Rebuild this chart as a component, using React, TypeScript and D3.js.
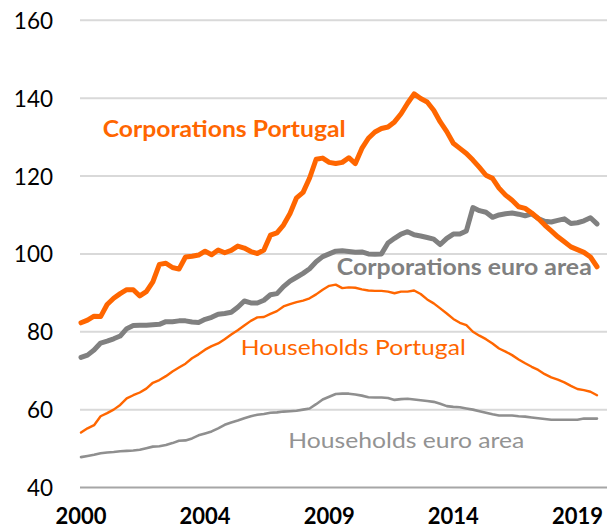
import React from "react";
import * as d3 from "d3";

// ---- data (quarterly, 2000Q1 .. 2019Q4) ----
const years = d3.range(2000, 2020);
const quarters: string[] = years.flatMap((y) => [1, 2, 3, 4].map((q) => `${y}Q${q}`));

const corpPortugal = [
  82.3, 83.0, 84.0, 83.9, 87.0, 88.6, 89.8, 90.8, 90.8, 89.2,
  90.3, 92.8, 97.3, 97.6, 96.5, 96.1, 99.2, 99.4, 99.7, 100.7,
  99.8, 101.0, 100.3, 100.9, 102.0, 101.5, 100.6, 100.1, 101.0, 104.8,
  105.4, 107.4, 110.4, 114.4, 115.8, 119.5, 124.3, 124.6, 123.5, 123.2,
  123.5, 124.7, 123.2, 127.1, 129.7, 131.3, 132.2, 132.6, 133.9, 136.0,
  138.7, 141.1, 139.9, 139.0, 136.9, 133.9, 131.4, 128.4, 127.1, 125.8,
  124.1, 122.2, 120.2, 119.4, 116.9, 115.1, 113.8, 112.1, 111.7, 110.5,
  109.1, 107.4, 105.9, 104.4, 103.1, 101.8, 101.1, 100.4, 99.2, 96.7,
];

const corpEuroArea = [
  73.4, 74.0, 75.3, 77.1, 77.6, 78.2, 78.9, 80.8, 81.6, 81.7,
  81.7, 81.8, 81.9, 82.6, 82.6, 82.8, 82.8, 82.5, 82.4, 83.2,
  83.7, 84.5, 84.7, 85.0, 86.3, 87.9, 87.4, 87.4, 88.1, 89.5,
  89.8, 91.6, 93.0, 94.0, 95.0, 96.2, 98.0, 99.3, 100.0, 100.7,
  100.8, 100.6, 100.4, 100.5, 100.0, 99.9, 100.0, 102.8, 104.0, 105.1,
  105.7, 104.9, 104.6, 104.2, 103.8, 102.4, 104.0, 105.1, 105.1, 105.9,
  111.9, 111.1, 110.7, 109.4, 110.0, 110.3, 110.5, 110.2, 109.8, 110.3,
  109.1, 108.4, 108.2, 108.6, 109.0, 107.8, 108.0, 108.5, 109.3, 107.7,
];

const hhPortugal = [
  54.1, 55.2, 56.0, 58.3, 59.1, 60.0, 61.2, 62.9, 63.7, 64.4,
  65.4, 66.9, 67.6, 68.6, 69.8, 70.8, 71.8, 73.2, 74.2, 75.4,
  76.3, 77.0, 78.1, 79.3, 80.4, 81.6, 82.8, 83.7, 83.8, 84.6,
  85.3, 86.5, 87.1, 87.6, 88.0, 88.6, 89.6, 90.8, 91.8, 92.1,
  91.2, 91.4, 91.3, 90.9, 90.6, 90.5, 90.5, 90.3, 89.9, 90.3,
  90.3, 90.6, 89.7, 88.3, 87.3, 86.0, 84.7, 83.3, 82.3, 81.7,
  80.0, 79.0, 78.1, 77.0, 75.7, 74.9, 74.0, 72.9, 71.9, 71.0,
  70.2, 69.1, 68.3, 67.7, 67.0, 66.1, 65.3, 65.0, 64.6, 63.7,
];

const hhEuroArea = [
  47.8, 48.1, 48.4, 48.8, 49.0, 49.1, 49.3, 49.4, 49.5, 49.7,
  50.1, 50.5, 50.6, 50.9, 51.4, 52.0, 52.1, 52.6, 53.4, 53.9,
  54.4, 55.2, 56.1, 56.7, 57.2, 57.8, 58.3, 58.7, 58.9, 59.2,
  59.3, 59.5, 59.6, 59.7, 60.0, 60.3, 61.4, 62.6, 63.3, 64.0,
  64.1, 64.1, 63.9, 63.6, 63.2, 63.1, 63.1, 63.0, 62.5, 62.7,
  62.8, 62.6, 62.4, 62.2, 62.0, 61.5, 60.9, 60.7, 60.6, 60.3,
  60.0, 59.6, 59.2, 58.8, 58.5, 58.5, 58.5, 58.3, 58.2, 58.0,
  57.8, 57.6, 57.4, 57.4, 57.4, 57.4, 57.4, 57.7, 57.7, 57.7,
];

const yTicks = [40, 60, 80, 100, 120, 140, 160];
const xTickQuarters = ["2000Q1", "2004Q4", "2009Q3", "2014Q2", "2019Q1"];

const seriesNames = [
  "Households euro area",
  "Households Portugal",
  "Corporations euro area",
  "Corporations Portugal",
];

// ---- layout / style ----
const W = 608;
const H = 529;
const ORANGE = "#ff6600";
const GRAY_DARK = "#808080";
const GRAY_LIGHT = "#8f8f8f";
const FONT = "Lato, 'Liberation Sans', sans-serif";

export default function App() {
  const x = d3.scaleLinear().domain([0, quarters.length - 1]).range([81, 597]);
  const y = d3.scaleLinear().domain([40, 160]).range([487.5, 20.3]);
  const gridX0 = 80;
  const gridX1 = 607;

  const line = d3
    .line<number>()
    .x((_, i) => x(i))
    .y((d) => y(d));

  const series = [
    { name: seriesNames[0], values: hhEuroArea, color: GRAY_LIGHT, width: 2.6 },
    { name: seriesNames[1], values: hhPortugal, color: ORANGE, width: 2.4 },
    { name: seriesNames[2], values: corpEuroArea, color: GRAY_DARK, width: 5 },
    { name: seriesNames[3], values: corpPortugal, color: ORANGE, width: 5 },
  ];

  // annotation anchors in data space (quarter index, value)
  const labels = [
    { text: seriesNames[3], qi: 3.32, v: 130.0, color: ORANGE, bold: true, len: 243 },
    { text: seriesNames[2], qi: 39.16, v: 94.54, color: GRAY_DARK, bold: true, len: 255 },
    { text: seriesNames[1], qi: 24.46, v: 73.97, color: ORANGE, bold: false, len: 225 },
    { text: seriesNames[0], qi: 31.75, v: 50.07, color: "#939393", bold: false, len: 236 },
  ];

  return (
    <svg
      width={W}
      height={H}
      style={{ position: "absolute", left: 0, top: 0, background: "#fff" }}
      fontFamily={FONT}
    >
      <rect width={W} height={H} fill="#fff" />
      {/* gridlines */}
      {yTicks.map((t) => (
        <line
          key={t}
          x1={gridX0}
          x2={gridX1}
          y1={y(t)}
          y2={y(t)}
          stroke={t === 40 ? "#a6a6a6" : "#d9d9d9"}
          strokeWidth={2}
        />
      ))}
      {/* y tick labels */}
      {yTicks.map((t) => (
        <text
          key={"yl" + t}
          x={53}
          y={y(t) + 8.5}
          textAnchor="end"
          fontSize={22.5}
          fill="#000"
        >
          {t}
        </text>
      ))}
      {/* x tick labels */}
      {xTickQuarters.map((q) => {
        const i = quarters.indexOf(q);
        return (
          <text
            key={q}
            x={x(i)}
            y={523.5}
            textAnchor="middle"
            fontSize={22}
            fontWeight="bold"
            fill="#000"
          >
            {q.slice(0, 4)}
          </text>
        );
      })}
      {/* lines */}
      {series.map((s) => (
        <path
          key={s.name}
          d={line(s.values) || ""}
          fill="none"
          stroke={s.color}
          strokeWidth={s.width}
          strokeLinejoin="round"
          strokeLinecap="round"
        />
      ))}
      {/* series labels */}
      {labels.map((l) => (
        <text
          key={l.text}
          x={x(l.qi)}
          y={y(l.v)}
          fontSize={22}
          fontWeight={l.bold ? "bold" : "normal"}
          fill={l.color}
          textLength={l.len}
          lengthAdjust="spacingAndGlyphs"
        >
          {l.text}
        </text>
      ))}
    </svg>
  );
}
